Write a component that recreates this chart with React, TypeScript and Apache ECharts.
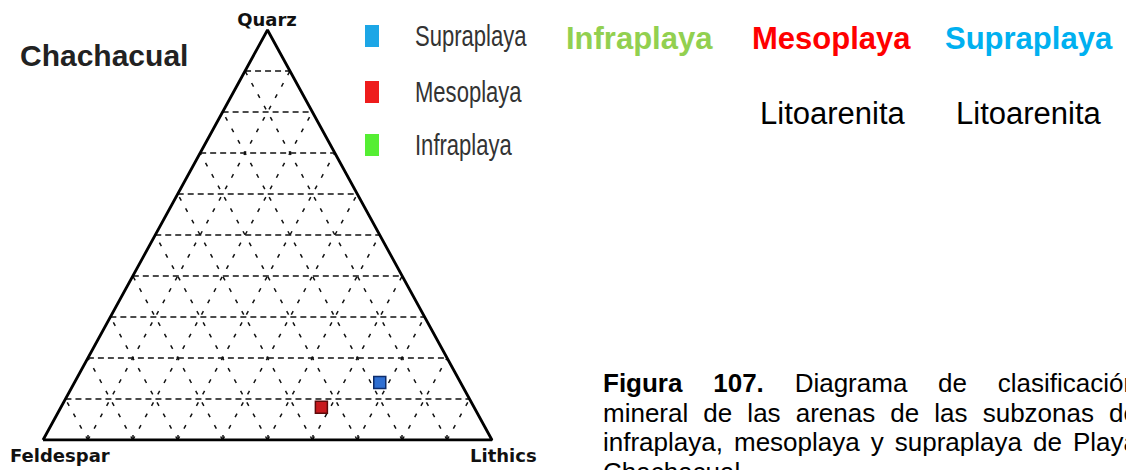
import React, { useEffect, useRef } from 'react';
import * as echarts from 'echarts';

// Ternary vertices (top, bottom-left, bottom-right)
const vertexLabels = ['Quarz', 'Feldespar', 'Lithics'];

// Samples (percent)
const sampleNames = ['Supraplaya', 'Mesoplaya'];
const quarz = [14, 8];
const feldespar = [18, 34];
const lithics = [68, 58];
const markerFill = ['#2f6fd2', '#c8191d'];
const markerBorder = ['#0d2c6b', '#5c0a0a'];

// Legend of the diagram
const legendNames = ['Supraplaya', 'Mesoplaya', 'Infraplaya'];
const legendColors = ['#1ca6e6', '#ee1c1c', '#55ee33'];

// Grid divisions (fractions)
const gridFractions = [0.1, 0.2, 0.3, 0.4, 0.5, 0.6, 0.7, 0.8, 0.9];

// Header table
const headerLabels = ['Infraplaya', 'Mesoplaya', 'Supraplaya'];
const headerColors = ['#92d050', '#ff0000', '#00b0f0'];
const classLabels = ['', 'Litoarenita', 'Litoarenita'];

// Caption
const captionLines: { text: string; bold: boolean }[][] = [
  [
    { text: 'Figura', bold: true },
    { text: '107.', bold: true },
    { text: 'Diagrama', bold: false },
    { text: 'de', bold: false },
    { text: 'clasificación', bold: false },
  ],
  ['mineral', 'de', 'las', 'arenas', 'de', 'las', 'subzonas', 'de'].map((t) => ({ text: t, bold: false })),
  ['infraplaya,', 'mesoplaya', 'y', 'supraplaya', 'de', 'Playa'].map((t) => ({ text: t, bold: false })),
];
const captionLastLine = 'Chachacual.';

function toXY(q: number, f: number, l: number): [number, number] {
  const s = q + f + l;
  const Q = q / s;
  const L = l / s;
  return [L + Q / 2, Q];
}

export default function App() {
  const ref = useRef<HTMLDivElement>(null);
  useEffect(() => {
    if (!ref.current) return;
    const chart = echarts.init(ref.current, undefined, { renderer: 'svg' });

    const hLines = gridFractions.map((k) => ({ coords: [[k / 2, k], [1 - k / 2, k]] }));
    const lLines = gridFractions.map((k) => ({ coords: [[k, 0], [k + (1 - k) / 2, 1 - k]] }));
    const fLines = gridFractions.map((k) => ({ coords: [[1 - k, 0], [(1 - k) / 2, 1 - k]] }));
    const baseTicks = gridFractions.map((k) => ({ coords: [[k, 0], [k, 0.012]] }));

    const diagFont = 'bold 18px "DejaVu Sans"';

    // caption justification
    const cv = document.createElement('canvas').getContext('2d')!;
    const capSize = 26;
    const fontOf = (b: boolean) => `${b ? 'bold ' : ''}${capSize}px "Liberation Sans"`;
    const capX0 = 603;
    const capX1 = 1138;
    const capY = [383, 413, 442, 472];
    const captionEls: any[] = [];
    captionLines.forEach((words, li) => {
      const widths = words.map((w) => {
        cv.font = fontOf(w.bold);
        return cv.measureText(w.text).width;
      });
      const total = widths.reduce((a, b) => a + b, 0);
      const gap = (capX1 - capX0 - total) / (words.length - 1);
      let x = capX0;
      words.forEach((w, i) => {
        captionEls.push({
          type: 'text',
          x,
          y: capY[li],
          silent: true,
          style: { text: w.text, font: fontOf(w.bold), fill: '#000', align: 'left', verticalAlign: 'middle' },
        });
        x += widths[i] + gap;
      });
    });
    captionEls.push({
      type: 'text',
      x: capX0,
      y: capY[3],
      silent: true,
      style: { text: captionLastLine, font: fontOf(false), fill: '#000', align: 'left', verticalAlign: 'middle' },
    });

    const legendEls: any[] = [];
    const legendY = [36, 92, 145];
    legendNames.forEach((n, i) => {
      legendEls.push({
        type: 'rect',
        shape: { x: 365, y: legendY[i] - 11, width: 14, height: 22 },
        style: { fill: legendColors[i] },
        silent: true,
      });
      legendEls.push({
        type: 'text',
        x: 415,
        y: legendY[i],
        scaleX: 0.76,
        silent: true,
        style: { text: n, font: '29px "Liberation Sans"', fill: '#333', align: 'left', verticalAlign: 'middle' },
      });
    });

    const headerX = [566, 752, 945];
    const classX = [0, 760, 956];
    const headerEls: any[] = [];
    headerLabels.forEach((h, i) => {
      headerEls.push({
        type: 'text',
        x: headerX[i],
        y: 38,
        silent: true,
        style: { text: h, font: 'bold 31px "Liberation Sans"', fill: headerColors[i], align: 'left', verticalAlign: 'middle' },
      });
      if (classLabels[i]) {
        headerEls.push({
          type: 'text',
          x: classX[i],
          y: 113,
          silent: true,
          style: { text: classLabels[i], font: '31px "Liberation Sans"', fill: '#000', align: 'left', verticalAlign: 'middle' },
        });
      }
    });

    chart.setOption({
      animation: false,
      backgroundColor: '#ffffff',
      grid: { left: 43, top: 30, width: 449, height: 410, show: false },
      xAxis: { type: 'value', min: 0, max: 1, show: false },
      yAxis: { type: 'value', min: 0, max: 1, show: false },
      series: [
        {
          type: 'lines',
          coordinateSystem: 'cartesian2d',
          silent: true,
          data: hLines,
          lineStyle: { color: '#111', width: 1.5, type: [6, 4], opacity: 1 },
        },
        {
          type: 'lines',
          coordinateSystem: 'cartesian2d',
          silent: true,
          data: lLines,
          lineStyle: { color: '#111', width: 1.5, type: [4, 9], opacity: 1 },
        },
        {
          type: 'lines',
          coordinateSystem: 'cartesian2d',
          silent: true,
          data: fLines,
          lineStyle: { color: '#111', width: 1.5, type: [4, 9], opacity: 1 },
        },
        {
          type: 'lines',
          coordinateSystem: 'cartesian2d',
          silent: true,
          data: baseTicks,
          lineStyle: { color: '#111', width: 1.5, opacity: 1 },
        },
        {
          type: 'line',
          silent: true,
          symbol: 'none',
          data: [[0, 0], [1, 0], [0.5, 1], [0, 0]],
          lineStyle: { color: '#000', width: 2.8 },
        },
        ...sampleNames.map((n, i) => ({
          type: 'scatter',
          name: n,
          symbol: 'rect',
          symbolSize: 12,
          data: [toXY(quarz[i], feldespar[i], lithics[i])],
          itemStyle: { color: markerFill[i], borderColor: markerBorder[i], borderWidth: 1.5, opacity: 1 },
        })),
      ],
      graphic: [
        {
          type: 'text',
          x: 20,
          y: 55,
          silent: true,
          style: { text: 'Chachacual', font: 'bold 30px "Liberation Sans"', fill: '#222', align: 'left', verticalAlign: 'middle' },
        },
        {
          type: 'text',
          x: 267,
          y: 19,
          silent: true,
          style: { text: vertexLabels[0], font: diagFont, fill: '#111', align: 'center', verticalAlign: 'middle' },
        },
        {
          type: 'text',
          x: 10,
          y: 455,
          silent: true,
          style: { text: vertexLabels[1], font: diagFont, fill: '#111', align: 'left', verticalAlign: 'middle' },
        },
        {
          type: 'text',
          x: 470,
          y: 455,
          silent: true,
          style: { text: vertexLabels[2], font: diagFont, fill: '#111', align: 'left', verticalAlign: 'middle' },
        },
        ...legendEls,
        ...headerEls,
        ...captionEls,
      ],
    });
    return () => chart.dispose();
  }, []);
  return (
    <div
      ref={ref}
      style={{ position: 'fixed', left: 0, top: 0, width: 1126, height: 470, background: '#fff' }}
    />
  );
}
